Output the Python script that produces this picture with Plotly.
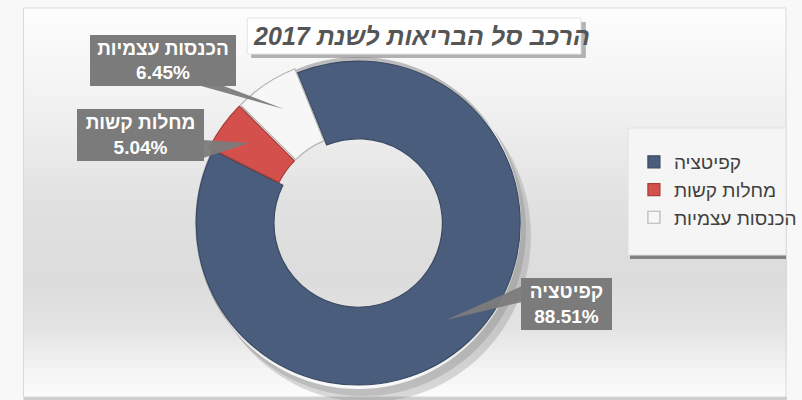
import math
import plotly.graph_objects as go

# Health basket composition, 2017
labels = ["קפיטציה", "מחלות קשות", "הכנסות עצמיות"]
values = [88.51, 5.04, 6.45]
colors = ["#4a5d7c", "#d4504c", "#f7f7f7"]
edge_colors = ["#3a4a63", "#a83c39", "#b5b5b5"]
title_text = "הרכב סל הבריאות לשנת 2017"

W, H = 802, 400
FONT = "Liberation Sans, Arial, DejaVu Sans, sans-serif"

# pie geometry (pixels)
CX, CY = 365, 223
HOLE = 0.52
PULL = [0, 0.03, 0.03]
ROTATION = -22
BOX = 340                      # side of the pie domain in px
R = BOX / (2 + 2 * max(PULL))  # radius plotly will use


def px(x):
    return x / W


def py(y):
    return 1 - y / H


def lerp_gray(y, stops):
    for (y0, g0), (y1, g1) in zip(stops, stops[1:]):
        if y0 <= y <= y1:
            t = (y - y0) / (y1 - y0)
            g = round(g0 + (g1 - g0) * t)
            return f"rgb({g},{g},{g})"
    g = stops[-1][1]
    return f"rgb({g},{g},{g})"


shapes = []

# soft vertical gradient behind the chart area
grad = [(8, 253), (70, 246), (140, 236), (210, 224), (280, 220),
        (330, 228), (365, 242), (397, 252)]
top, bottom, step = 8, 397, 4
y = top
while y < bottom:
    y2 = min(y + step, bottom)
    shapes.append(dict(type="rect", xref="paper", yref="paper", layer="below",
                       x0=px(24), x1=px(802), y0=py(y2), y1=py(y),
                       fillcolor=lerp_gray((y + y2) / 2, grad), line_width=0))
    y = y2
# chart frame
shapes.append(dict(type="rect", xref="paper", yref="paper", layer="below",
                   x0=px(24), x1=px(801), y0=py(397), y1=py(8),
                   fillcolor="rgba(0,0,0,0)", line=dict(color="#d9d9d9", width=1)))
shapes.append(dict(type="line", xref="paper", yref="paper", layer="below",
                   x0=px(24), x1=px(802), y0=py(398.5), y1=py(398.5),
                   line=dict(color="#cfcfcf", width=3)))


def circle_pts(cx, cy, r, n=120):
    return [(cx + r * math.cos(2 * math.pi * k / n),
             cy + r * math.sin(2 * math.pi * k / n)) for k in range(n)]


def crescent_path(cx, cy, r, dx, dy):
    # offset disk minus the pie disk -> shadow visible only outside the ring
    p = "M " + " L ".join(f"{px(a):.5f},{py(b):.5f}" for a, b in circle_pts(cx + dx, cy + dy, r)) + " Z "
    p += "M " + " L ".join(f"{px(a):.5f},{py(b):.5f}" for a, b in circle_pts(cx, cy, r)) + " Z"
    return p


# drop shadow of the ring
shapes.append(dict(type="path", xref="paper", yref="paper", layer="below",
                   path=crescent_path(CX, CY, R + 1, 10, 13),
                   fillrule="evenodd", fillcolor="rgba(110,110,110,0.25)", line_width=0))
shapes.append(dict(type="path", xref="paper", yref="paper", layer="below",
                   path=crescent_path(CX, CY, R + 1, 5, 7),
                   fillrule="evenodd", fillcolor="rgba(90,90,90,0.2)", line_width=0))

# title box with shadow
shapes.append(dict(type="rect", xref="paper", yref="paper", layer="below",
                   x0=px(256), x1=px(597), y0=py(58), y1=py(22),
                   fillcolor="rgba(120,120,120,0.55)", line_width=0))
shapes.append(dict(type="rect", xref="paper", yref="paper", layer="below",
                   x0=px(252), x1=px(592), y0=py(54), y1=py(18),
                   fillcolor="white", line=dict(color="#e4e4e4", width=1)))

# legend panel with shadow
shapes.append(dict(type="rect", xref="paper", yref="paper", layer="below",
                   x0=px(642), x1=px(801), y0=py(259), y1=py(134),
                   fillcolor="rgba(70,70,70,0.6)", line_width=0))
shapes.append(dict(type="rect", xref="paper", yref="paper", layer="below",
                   x0=px(640), x1=px(801), y0=py(255), y1=py(128),
                   fillcolor="#f5f5f5", line=dict(color="#e2e2e2", width=1)))

# slice angles (degrees clockwise from 12 o'clock)
total = sum(values)
mids = []
start = ROTATION
for v in values:
    span = 360 * v / total
    mids.append(start + span / 2)
    start += span


def tip(i, frac=0.8):
    a = math.radians(mids[i])
    r = R * frac + R * PULL[i]
    return CX + r * math.sin(a), CY - r * math.cos(a)


# data-label boxes (pixels: x0, x1, y0, y1) and the edge points where each callout starts
label_boxes = [
    (532, 623, 278, 330),
    (80, 207, 109, 161),
    (93, 239, 35, 86),
]
callout_base = [
    [(532, 286), (532, 302)],
    [(207, 140), (207, 158)],
    [(205, 86), (228, 86)],
]

annotations = []
LABEL_GRAY = "#7b7b7b"
for i, (lab, val) in enumerate(zip(labels, values)):
    x0, x1, y0, y1 = label_boxes[i]
    (bx0, by0), (bx1, by1) = callout_base[i]
    tx, ty = tip(i)
    shapes.append(dict(type="path", xref="paper", yref="paper", layer="above",
                       path=f"M {px(bx0)},{py(by0)} L {px(tx)},{py(ty)} L {px(bx1)},{py(by1)} Z",
                       fillcolor=LABEL_GRAY, line_width=0, opacity=0.95))
    annotations.append(dict(
        xref="paper", yref="paper", x=px((x0 + x1) / 2), y=py((y0 + y1) / 2),
        xanchor="center", yanchor="middle", showarrow=False,
        width=x1 - x0, height=y1 - y0, borderpad=0, borderwidth=0,
        bgcolor=LABEL_GRAY, align="center",
        text=f"<b>{lab}<br>{val:.2f}%</b>",
        font=dict(family=FONT, size=19, color="white"),
    ))

fig = go.Figure(go.Pie(
    labels=labels, values=values, sort=False, direction="clockwise",
    rotation=ROTATION, hole=HOLE, pull=PULL,
    marker=dict(colors=colors, line=dict(color=edge_colors, width=1.2)),
    textinfo="none", hoverinfo="label+percent",
    domain=dict(x=[px(CX - BOX / 2), px(CX + BOX / 2)],
                y=[py(CY + BOX / 2), py(CY - BOX / 2)]),
))

fig.update_layout(
    width=W, height=H, margin=dict(l=0, r=0, t=0, b=0),
    paper_bgcolor="#f8f8f8", plot_bgcolor="#f8f8f8",
    title=dict(text=f"<b><i>{title_text}</i></b>", x=px(422), xanchor="center",
               y=py(36), yanchor="middle",
               font=dict(family=FONT, size=25, color="#555555")),
    legend=dict(x=px(646), y=py(190), xanchor="left", yanchor="middle",
                bgcolor="rgba(0,0,0,0)", font=dict(family=FONT, size=19, color="#404040"),
                itemwidth=30),
    shapes=shapes, annotations=annotations,
)

fig.write_html("out.html")
